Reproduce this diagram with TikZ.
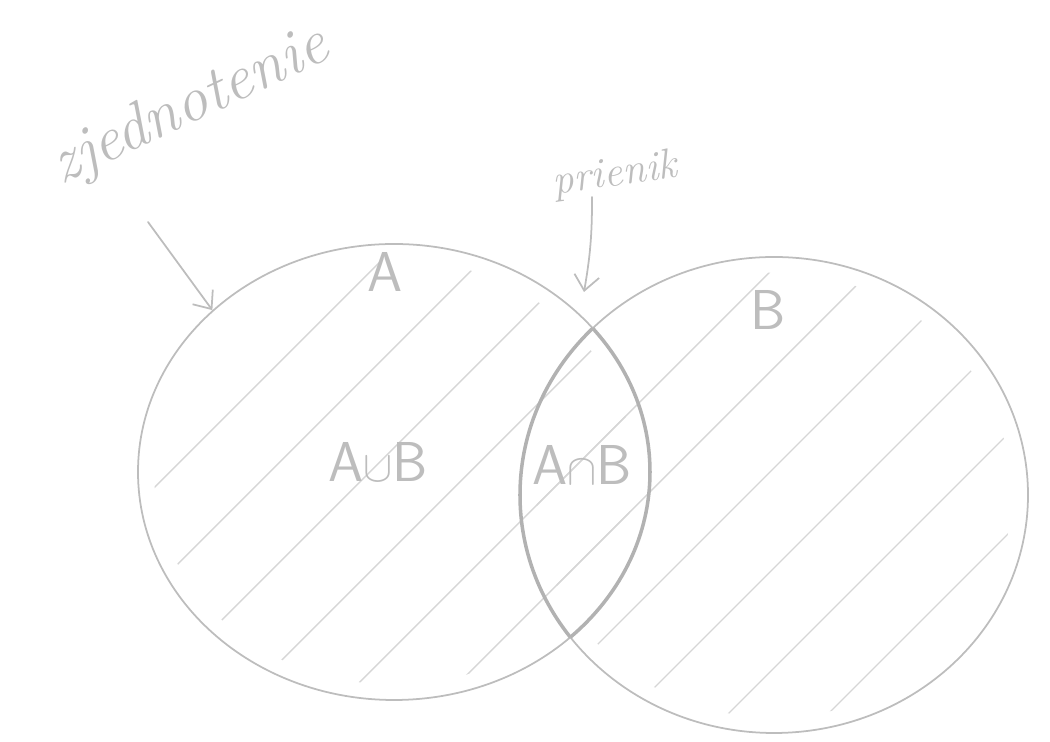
\documentclass[tikz,border=0pt]{standalone}
\usepackage{fontspec}
\usepackage{tikz}
\usetikzlibrary{shapes.geometric,arrows.meta}
\definecolor{pencil}{gray}{0.74}
\definecolor{hatch}{gray}{0.84}
\definecolor{lenscol}{gray}{0.70}

\begin{document}
\begin{tikzpicture}[>={Straight Barb[length=3mm,width=5mm]},
  line cap=round,
  set/.style={ellipse,draw=pencil,line width=1pt,inner sep=0pt},
  hand/.style={text=pencil,font=\fontsize{36}{40}\selectfont\itshape},
  lbl/.style={text=pencil,font=\fontsize{32}{38}\selectfont\sffamily},
  arr/.style={->,draw=pencil,line width=1pt}]
  % Ramik (1 px = 0.02 cm)
  \useasboundingbox (0,0) rectangle (21,14.84);
  % Mnoziny A a B
  \node[set,minimum width=10.24cm,minimum height=9.12cm] (A) at (7.88,5.40) {};
  \node[set,minimum width=10.16cm,minimum height=9.52cm] (B) at (15.48,4.94) {};
  % Srafovanie
  \begin{scope}
    \clip (A.center) ellipse [x radius=4.8cm,y radius=4.25cm];
    \foreach \i in {-16,-14,...,30}
      \draw[hatch,line width=0.8pt] (\i,0) -- ++(15,15);
  \end{scope}
  \begin{scope}
    \clip (B.center) ellipse [x radius=4.75cm,y radius=4.45cm];
    \foreach \i in {-16,-14,...,30}
      \draw[hatch,line width=0.8pt] (\i,0) -- ++(15,15);
  \end{scope}
  % Prienik (hrubsia ciara)
  \begin{scope}
    \clip (A.center) ellipse [x radius=5.12cm,y radius=4.56cm];
    \draw[lenscol,line width=2pt] (B.center) ellipse [x radius=5.08cm,y radius=4.76cm];
  \end{scope}
  \begin{scope}
    \clip (B.center) ellipse [x radius=5.08cm,y radius=4.76cm];
    \draw[lenscol,line width=2pt] (A.center) ellipse [x radius=5.12cm,y radius=4.56cm];
  \end{scope}
  % Popisy
  \node[lbl] (la) at (7.7,9.4) {A};
  \node[lbl] (lb) at (15.36,8.64) {B};
  \node[lbl] (union) at (7.56,5.6) {A$\cup$B};
  \node[lbl] (inter) at (11.64,5.54) {A$\cap$B};
  \node[hand,rotate=25] (zj) at (3.8,12.7) {zjednotenie};
  \node[hand,rotate=8,font=\fontsize{24}{28}\selectfont\itshape] (pr) at (12.3,11.34) {prienik};
  % Sipky
  \coordinate (zjtail) at (2.96,10.4);
  \coordinate (prtail) at (11.84,10.9);
  \coordinate (prtip) at (11.68,9.0);
  \draw[arr] (zjtail) -- (A.north west);
  \draw[arr] (prtail) to[bend left=5] (prtip);
\end{tikzpicture}
\end{document}
